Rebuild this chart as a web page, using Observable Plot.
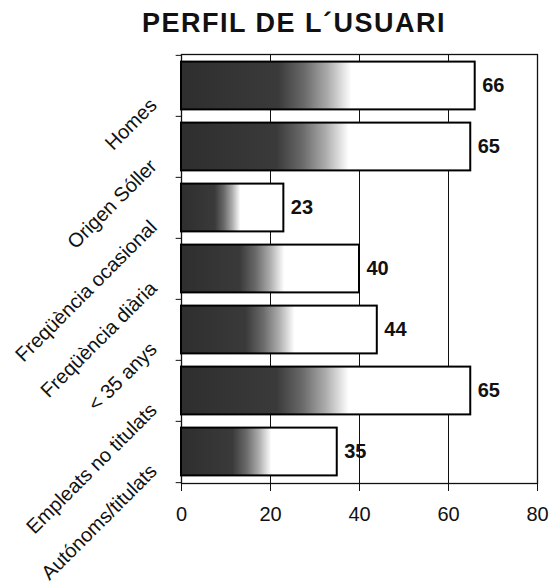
<!DOCTYPE html>
<html>
<head>
<meta charset="utf-8">
<script src="https://cdn.jsdelivr.net/npm/d3@7"></script>
<script src="https://cdn.jsdelivr.net/npm/@observablehq/plot@0.6"></script>
<style>
  body { margin: 0; background: #fff; font-family: "Liberation Sans", Arial, sans-serif; }
  #title { height: 48px; position: relative; }
  #title span { position: absolute; left: 294px; top: 8px; transform: translateX(-50%);
    font-size: 27px; font-weight: bold; letter-spacing: 1.5px; white-space: nowrap; color: #111; }
</style>
</head>
<body>
<svg width="0" height="0" style="position:absolute">
  <defs>
    <linearGradient id="fade" x1="0" y1="0" x2="1" y2="0">
      <stop offset="0" stop-color="#2e2e2e"/>
      <stop offset="0.33" stop-color="#3a3a3a"/>
      <stop offset="0.42" stop-color="#6a6a6a"/>
      <stop offset="0.5" stop-color="#acacac"/>
      <stop offset="0.58" stop-color="#fff"/>
      <stop offset="1" stop-color="#fff"/>
    </linearGradient>
  </defs>
</svg>
<div id="title"><span>PERFIL DE L´USUARI</span></div>
<div id="chart"></div>
<script>
const categories = ["Homes", "Origen Sóller", "Freqüència ocasional", "Freqüència diària", "< 35 anys", "Empleats no titulats", "Autónoms/titulats"];
const values = [66, 65, 23, 40, 44, 65, 35];
const xTicks = [0, 20, 40, 60, 80];

const data = categories.map((c, i) => ({category: c, value: values[i]}));
const band = (540 - 6 - 105) / categories.length;

const chart = Plot.plot({
  width: 552,
  height: 540,
  marginLeft: 181,
  marginRight: 15,
  marginTop: 6,
  marginBottom: 105,
  style: {fontFamily: "'Liberation Sans', Arial, sans-serif", color: "#111", background: "#fff"},
  x: {domain: [0, 80]},
  y: {domain: categories, padding: 0, axis: null},
  marks: [
    Plot.ruleX(xTicks.slice(1, -1), {stroke: "#111", strokeWidth: 1}),
    Plot.frame({stroke: "#111", strokeWidth: 1.3}),
    Plot.barX(data, {x: "value", y: "category", fill: "url(#fade)", stroke: "#000", strokeWidth: 2, insetTop: 6.6, insetBottom: 6.6}),
    Plot.text(data, {x: "value", y: "category", text: d => String(d.value), dx: 7, textAnchor: "start", fontWeight: "bold", fontSize: 20, fill: "#111"}),
    Plot.ruleY(categories, {y: d => d, x1: -1.2, x2: 0, dy: -band / 2, stroke: "#111"}),
    Plot.ruleY(categories.slice(-1), {y: d => d, x1: -1.2, x2: 0, dy: band / 2, stroke: "#111"}),
    Plot.text(categories, {y: d => d, frameAnchor: "left", rotate: -45, textAnchor: "end", dx: -28, dy: 16, fontSize: 20, fill: "#111"}),
    Plot.axisX({ticks: xTicks, tickSize: 8, tickPadding: 15, fontSize: 20, label: null, stroke: "#111"})
  ]
});
document.getElementById("chart").appendChild(chart);
</script>
</body>
</html>
